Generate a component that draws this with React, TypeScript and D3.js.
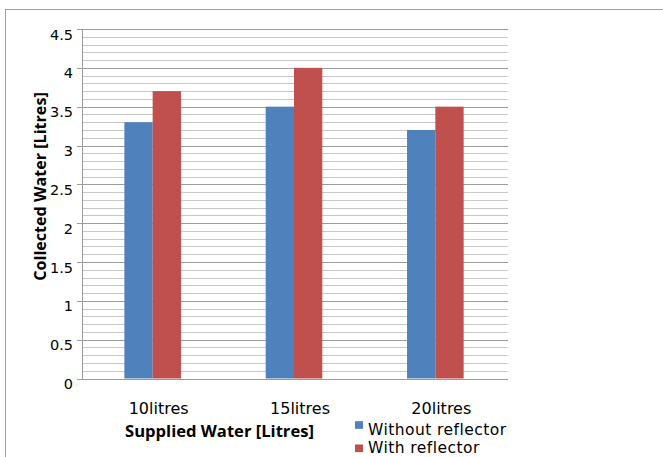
import { useEffect } from "react";
import * as d3 from "d3";

const categories = ["10litres", "15litres", "20litres"];
const withoutReflector = [3.3, 3.5, 3.2];
const withReflector = [3.7, 4.0, 3.5];
const seriesNames = ["Without reflector", "With reflector"];
const yTickLabels = ["0", "0.5", "1", "1.5", "2", "2.5", "3", "3.5", "4", "4.5"];

const W = 663;
const H = 457;
const PLOT = { left: 82, right: 508, top: 29, bottom: 378.5 };
const COLORS = ["#4F81BD", "#C0504D"];
const REG_FONT = "'DejaVu Sans', sans-serif";
const BOLD_FONT = "'Open Sans', sans-serif";

export default function App() {
  useEffect(() => {
    document.body.style.margin = "0";
  }, []);

  const y = d3.scaleLinear().domain([0, 4.5]).range([PLOT.bottom, PLOT.top]);
  const x0 = d3.scaleBand<string>().domain(categories).range([PLOT.left, 506]);
  const barW = 28.3;
  const x1 = d3
    .scaleBand<string>()
    .domain(seriesNames)
    .range([-barW, barW]);

  const minorTicks = d3.range(0, 45).map((i) => i / 10).filter((_, i) => i % 5 !== 0);
  const majorTicks = yTickLabels.map(Number);
  const series = [withoutReflector, withReflector];

  return (
    <svg width={W} height={H} style={{ display: "block" }}>
      <rect x={0} y={0} width={W} height={H} fill="#fff" />
      <rect x={5.5} y={9.5} width={W + 20} height={H + 20} fill="none" stroke="#a0a0a0" strokeWidth={1} />

      {/* minor grid */}
      {minorTicks.map((t) => (
        <line key={"mn" + t} x1={PLOT.left} x2={PLOT.right} y1={Math.round(y(t)) + 0.5} y2={Math.round(y(t)) + 0.5} stroke="#c8c8c8" strokeWidth={1} />
      ))}
      {/* major grid + ticks */}
      {majorTicks.map((t) => (
        <line key={"mj" + t} x1={PLOT.left - 5} x2={PLOT.right} y1={Math.round(y(t)) + 0.5} y2={Math.round(y(t)) + 0.5} stroke="#9c9c9c" strokeWidth={1} />
      ))}
      <line x1={PLOT.left + 0.5} x2={PLOT.left + 0.5} y1={PLOT.top} y2={PLOT.bottom + 1} stroke="#9c9c9c" strokeWidth={1} />

      {/* bars */}
      {categories.map((c, ci) => {
        const cx = (x0(c) ?? 0) + x0.bandwidth() / 2;
        return seriesNames.map((s, si) => (
          <rect
            key={c + s}
            x={cx + (x1(s) ?? 0)}
            y={y(series[si][ci])}
            width={x1.bandwidth()}
            height={PLOT.bottom - y(series[si][ci])}
            fill={COLORS[si]}
          />
        ));
      })}

      {/* y tick labels */}
      {yTickLabels.map((l) => (
        <text key={"yl" + l} x={73} y={y(Number(l)) + 10.5} textAnchor="end" fontFamily={REG_FONT} fontSize={14.5} fill="#000">
          {l}
        </text>
      ))}

      {/* x labels */}
      {categories.map((c) => (
        <text key={"xl" + c} x={(x0(c) ?? 0) + x0.bandwidth() / 2 + 6} y={414} textAnchor="middle" fontFamily={REG_FONT} fontSize={16} fill="#000">
          {c}
        </text>
      ))}

      {/* axis titles */}
      <text x={219.5} y={437} textAnchor="middle" fontFamily={BOLD_FONT} fontWeight="bold" fontSize={16.6} fill="#000">
        Supplied Water [Litres]
      </text>
      <text transform="translate(46,186.5) rotate(-90)" textAnchor="middle" fontFamily={BOLD_FONT} fontWeight="bold" fontSize={16.1} fill="#000">
        Collected Water [Litres]
      </text>

      {/* legend */}
      <rect x={355} y={421.2} width={8} height={7.6} fill={COLORS[0]} />
      <text x={368} y={435} fontFamily={REG_FONT} fontSize={15.5} letterSpacing={0.45} fill="#000">
        {seriesNames[0]}
      </text>
      <rect x={355} y={444.5} width={8} height={7.6} fill={COLORS[1]} />
      <text x={368} y={453} fontFamily={REG_FONT} fontSize={15.5} letterSpacing={0.45} fill="#000">
        {seriesNames[1]}
      </text>
    </svg>
  );
}
